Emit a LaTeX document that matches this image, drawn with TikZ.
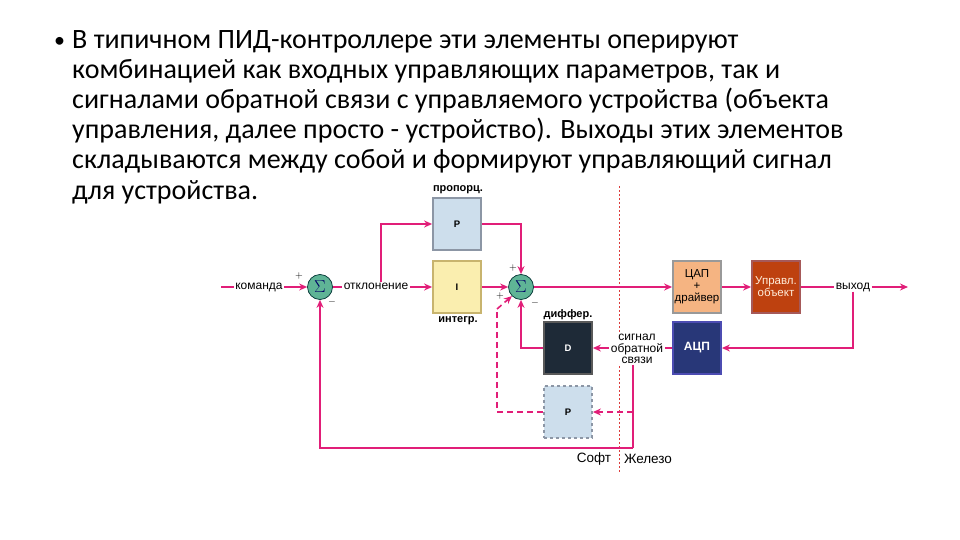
\documentclass[tikz,border=0pt]{standalone}
\usepackage{fontspec}
\setmainfont{Carlito}
\newfontfamily\lab{Liberation Sans}
\usetikzlibrary{arrows.meta}
\definecolor{mag}{RGB}{225,30,120}
\definecolor{pfill}{RGB}{205,222,236}
\definecolor{pdraw}{RGB}{140,150,165}
\definecolor{ifill}{RGB}{250,238,175}
\definecolor{idraw}{RGB}{200,180,110}
\definecolor{dacfill}{RGB}{245,180,130}
\definecolor{plantfill}{RGB}{190,65,15}
\definecolor{adcfill}{RGB}{40,55,120}
\definecolor{dfill}{RGB}{30,42,55}
\definecolor{sigfill}{RGB}{95,180,150}
\definecolor{divred}{RGB}{220,60,60}
\tikzset{
  conn/.style={draw=mag, line width=1.6pt},
  arr/.style={conn, -{Stealth[length=8pt,width=7pt]}},
  blk/.style={minimum width=48pt, minimum height=52pt, line width=1.8pt, font=\lab\fontsize{11.5}{12}\selectfont, align=center, inner sep=1pt},
  sumnode/.style={circle, minimum size=25pt, inner sep=0pt, fill=sigfill, draw=teal!40!black, line width=0.7pt, text=blue!40!black, font=\fontsize{16}{16}\selectfont},
  lbl/.style={font=\lab\fontsize{12}{12}\selectfont, inner sep=1.5pt, fill=white, align=center},
  onl/.style={text height=1.2ex, text depth=0pt},
  blkcap/.style={font=\lab\fontsize{11}{11}\selectfont\bfseries, inner sep=1pt},
  sgn/.style={font=\fontsize{10}{10}\selectfont\bfseries, inner sep=0pt},
  txt/.style={anchor=base west, inner sep=0pt, font=\fontsize{28}{30}\selectfont}
}
\begin{document}
\begin{tikzpicture}[x=1pt,y=-1pt]
\path[use as bounding box] (0,0) rectangle (960,540);
% text
\node[anchor=base west, inner sep=0pt, font=\fontsize{22}{28}\selectfont] (bul) at (54,48) {•};
\node[txt] (t1) at (72,49) {В типичном ПИД-контроллере эти элементы оперируют};
\node[txt] (t2) at (72,79) {комбинацией как входных управляющих параметров, так и};
\node[txt] (t3) at (72,109) {сигналами обратной связи с управляемого устройства (объекта};
\node[txt] (t4) at (72,139) {управления, далее просто - устройство). Выходы этих элементов};
\node[txt] (t5) at (72,169) {складываются между собой и формируют управляющий сигнал};
\node[txt] (t6) at (72,199) {для устройства.};
% divider
\draw[divred, line width=0.9pt, dash pattern=on 2pt off 2pt] (619,186) -- (619,472);
% blocks
\node[blk, fill=pfill, draw=pdraw, font=\lab\fontsize{9.5}{9.5}\selectfont\bfseries] (P) at (457,224) {P};
\node[blk, fill=ifill, draw=idraw, font=\lab\fontsize{9.5}{9.5}\selectfont\bfseries] (I) at (457,287) {I};
\node[blk, fill=dacfill, draw=gray!80] (dac) at (697,287) {ЦАП\\+\\драйвер};
\node[blk, fill=plantfill, draw=gray!70!red, text=white!85!orange] (plant) at (776,287) {Управл.\\объект};
\node[blk, fill=adcfill, draw=gray!60!blue, text=white, font=\lab\fontsize{12}{12}\selectfont\bfseries] (adc) at (697,348) {АЦП};
\node[blk, fill=dfill, draw=gray!70!black, text=white, font=\lab\fontsize{9.5}{9.5}\selectfont\bfseries] (D) at (568,348) {D};
\node[blk, fill=pfill, draw=pdraw, dashed, font=\lab\fontsize{9.5}{9.5}\selectfont\bfseries] (P2) at (568,412) {P};
% sums
\node[sumnode] (s1) at (320,287) {$\Sigma$};
\node[sumnode] (s2) at (521,287) {$\Sigma$};
% labels
\node[lbl, onl] (cmd) at (259,287) {команда};
\node[lbl, onl] (dev) at (376,287) {отклонение};
\node[lbl, onl] (out) at (853,287) {выход};
\node[lbl, font=\lab\fontsize{12}{11.5}\selectfont] (sig) at (637,349) {сигнал\\обратной\\связи};
\node[blkcap] (lp) at (458,190) {пропорц.};
\node[blkcap] (li) at (458,321) {интегр.};
\node[blkcap] (ld) at (568,315) {диффер.};
\node[font=\lab\fontsize{13.5}{14}\selectfont] (soft) at (594,459) {Софт};
\node[font=\lab\fontsize{13.5}{14}\selectfont] (hw) at (648,459) {Железо};
\node[sgn] (pl1) at (299,276) {$+$};
\node[sgn] (mi1) at (332,302) {$-$};
\node[sgn] (pl2) at (513,268) {$+$};
\node[sgn] (pl3) at (500,296) {$+$};
\node[sgn] (mi2) at (535,303) {$-$};
% coordinates
\coordinate (inp) at (221,287);
\coordinate (outp) at (908,287);
\coordinate (br) at (381,287);
\coordinate (fb) at (633,448);
\coordinate (fp) at (633,412);
\coordinate (d1) at (497,412);
\coordinate (d2) at (497,309);
% connectors
\draw[conn] (inp) -- (cmd.west);
\draw[arr] (cmd.east) -- (s1.west);
\draw[conn] (s1.east) -- (dev.west);
\draw[arr] (dev.east) -- (I.west);
\draw[arr] (dev.north -| br) |- (P.west);
\draw[arr] (P.east) -| (s2.north);
\draw[arr] (I.east) -- (s2.west);
\draw[arr] (s2.east) -- (dac.west);
\draw[arr] (dac.east) -- (plant.west);
\draw[conn] (plant.east) -- (out.west);
\draw[arr] (out.east) -- (outp);
\draw[arr] (out.south) |- (adc.east);
\draw[conn] (adc.west) -- (adc.west -| sig.east);
\draw[arr] (D.east -| sig.west) -- (D.east);
\draw[arr] (D.west) -| (s2.south);
\draw[conn] (sig.south -| fb) -- (fb);
\draw[arr] (fb) -| (s1.south);
\draw[arr, dash pattern=on 6pt off 4pt] (fp) -- (P2.east);
\draw[conn, dash pattern=on 6pt off 4pt] (P2.west) -- (d1) -- (d2);
\draw[arr, dash pattern=on 6pt off 4pt] (d2) -- (s2.south west);
\end{tikzpicture}
\end{document}
